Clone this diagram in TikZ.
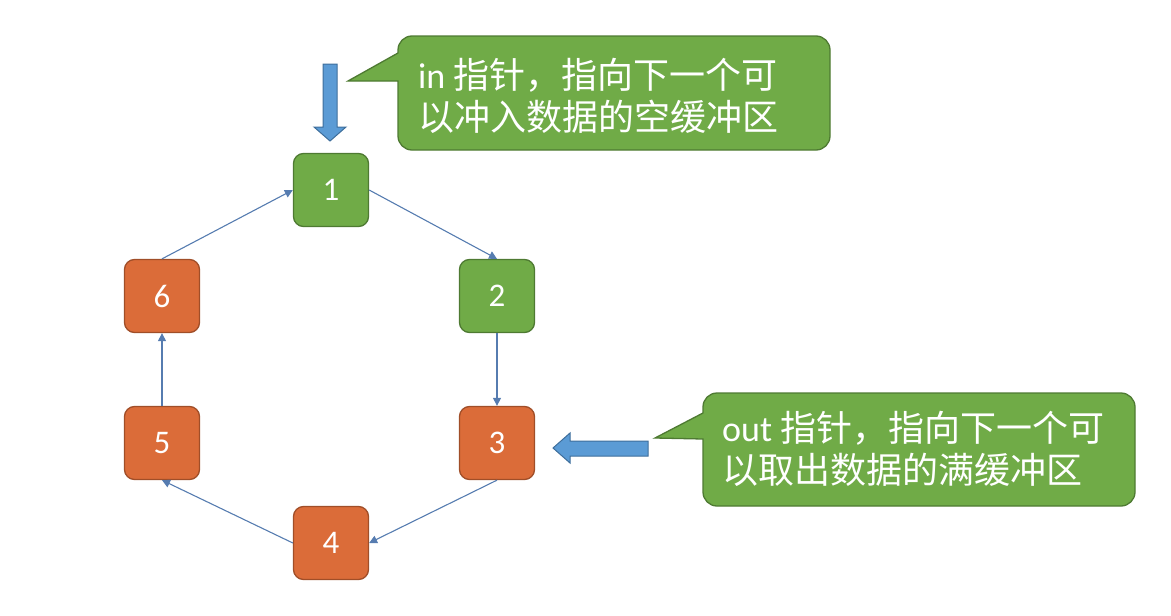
\documentclass[tikz,border=0pt]{standalone}
\usepackage{fontspec}
\setmainfont{Carlito}
\newfontfamily\cjk{Noto Sans CJK SC}
\usetikzlibrary{arrows.meta}
\definecolor{slotgreen}{RGB}{112,171,71}
\definecolor{slotgreenline}{RGB}{78,122,50}
\definecolor{slotorange}{RGB}{219,108,57}
\definecolor{slotorangeline}{RGB}{160,78,40}
\definecolor{ptrblue}{RGB}{91,155,213}
\definecolor{ptrblueline}{RGB}{62,110,155}
\definecolor{linkblue}{RGB}{86,124,176}
\tikzset{
  slot/.style={rectangle, rounded corners=10, minimum width=75, minimum height=73,
    line width=1.3, text=white, font=\fontsize{33}{38}\selectfont},
  emptyslot/.style={slot, fill=slotgreen, draw=slotgreenline},
  fullslot/.style={slot, fill=slotorange, draw=slotorangeline},
  link/.style={draw=linkblue, line width=1.1, -{Triangle[length=8, width=8]}},
  notebox/.style={fill=slotgreen, draw=slotgreenline, line width=1.3},
  notetext/.style={text=white, align=left, inner sep=0,
    font=\fontsize{36}{42}\selectfont},
  ptr/.style={fill=ptrblue, draw=ptrblueline, line width=1}
}
\begin{document}
\begin{tikzpicture}[x=1pt, y=-1pt]
   \useasboundingbox (0,0) rectangle (1171,616);

   % buffer ring
   \node[emptyslot] (n1) at (331,190) {1};
   \node[emptyslot] (n2) at (497,296) {2};
   \node[fullslot] (n3) at (497,443) {3};
   \node[fullslot] (n4) at (331,543) {4};
   \node[fullslot] (n5) at (162,443) {5};
   \node[fullslot] (n6) at (162,296) {6};
   \draw[link] (n1.east) -- (n2.north);
   \draw[link] (n2.south) -- (n3.north);
   \draw[link] (n3.south) -- (n4.east);
   \draw[link] (n4.west) -- (n5.south);
   \draw[link] (n5.north) -- (n6.south);
   \draw[link] (n6.north) -- (n1.west);

   % in pointer
   \coordinate (intip) at (348,81);
   \draw[notebox] (398,53) -- (intip) -- (398,81) [rounded corners=14]
      -- (398,150) -- (830,150) -- (830,36) -- (398,36) [sharp corners] -- cycle;
   \node[notetext, anchor=west] (intext) at (418,96)
      {in {\cjk 指针，指向下一个可}\\{\cjk 以冲入数据的空缓冲区}};
   \filldraw[ptr] (323,64) -- (337,64) -- (337,127) -- (346,127) -- (330,141)
      -- (314,127) -- (323,127) -- cycle;

   % out pointer
   \coordinate (outtip) at (655,438);
   \draw[notebox] (703,413) -- (outtip) -- (703,439) [rounded corners=14]
      -- (703,506) -- (1135,506) -- (1135,393) -- (703,393) [sharp corners] -- cycle;
   \node[notetext, anchor=west] (outtext) at (722,449)
      {out {\cjk 指针，指向下一个可}\\{\cjk 以取出数据的满缓冲区}};
   \filldraw[ptr] (648,441) -- (570,441) -- (570,433) -- (553,448) -- (570,463)
      -- (570,456) -- (648,456) -- cycle;
\end{tikzpicture}
\end{document}
